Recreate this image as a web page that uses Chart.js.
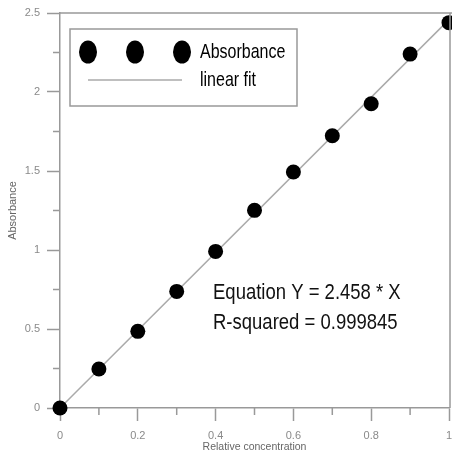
<!DOCTYPE html>
<html>
<head>
<meta charset="utf-8">
<script src="https://cdn.jsdelivr.net/npm/chart.js@4/dist/chart.umd.min.js"></script>
<style>
html,body{margin:0;padding:0;background:#fff;}
#wrap{width:452px;height:458px;position:relative;}
</style>
</head>
<body>
<div id="wrap"><canvas id="c"></canvas></div>
<script>
const concentration = [0, 0.1, 0.2, 0.3, 0.4, 0.5, 0.6, 0.7, 0.8, 0.9, 1.0];
const absorbance = [0, 0.247, 0.485, 0.738, 0.991, 1.251, 1.494, 1.723, 1.926, 2.24, 2.439];
const fitX = [0, 1];
const fitY = [0, 2.458];
const xTickLabels = ['0', '0.2', '0.4', '0.6', '0.8', '1'];
const yTickLabels = ['0', '0.5', '1', '1.5', '2', '2.5'];
const legendLabels = ['Absorbance', 'linear fit'];
const equationLines = ['Equation Y = 2.458 * X', 'R-squared = 0.999845'];
const xTitle = 'Relative concentration';
const yTitle = 'Absorbance';

const FONT = "Arial, 'Liberation Sans', sans-serif";
const AXIS = '#999999';
const TICKTXT = '#8a8a8a';

function labelFor(list, v) {
  const f = list.find(l => Math.abs(parseFloat(l) - v) < 1e-6);
  return f === undefined ? '' : f;
}

const decor = {
  id: 'decor',
  afterDraw(chart) {
    const ctx = chart.ctx;
    const a = chart.chartArea;
    const xs = chart.scales.x, ys = chart.scales.y;
    ctx.save();
    ctx.strokeStyle = AXIS;
    ctx.lineWidth = 1.5;
    ctx.beginPath();
    ctx.moveTo(a.left, a.top);
    ctx.lineTo(a.right + 3, a.top);
    ctx.moveTo(a.right + 1, a.top);
    ctx.lineTo(a.right + 1, a.bottom);
    ctx.stroke();
    ctx.beginPath();
    xs.ticks.forEach(t => {
      if (labelFor(xTickLabels, t.value) === '') {
        const px = xs.getPixelForValue(t.value);
        ctx.moveTo(px, a.bottom);
        ctx.lineTo(px, a.bottom + 7);
      }
    });
    ys.ticks.forEach(t => {
      if (labelFor(yTickLabels, t.value) === '') {
        const py = ys.getPixelForValue(t.value);
        ctx.moveTo(a.left, py);
        ctx.lineTo(a.left - 7, py);
      }
    });
    ctx.stroke();

    const lx = a.left + 10, ly = a.top + 16;
    ctx.strokeStyle = AXIS;
    ctx.lineWidth = 1.5;
    ctx.strokeRect(lx, ly, 227, 77);
    ctx.fillStyle = '#000';
    [18, 65, 112].forEach(dx => {
      ctx.beginPath();
      ctx.ellipse(lx + dx, ly + 23, 9, 11.5, 0, 0, Math.PI * 2);
      ctx.fill();
    });
    ctx.strokeStyle = '#aaaaaa';
    ctx.lineWidth = 1.5;
    ctx.beginPath();
    ctx.moveTo(lx + 18, ly + 51);
    ctx.lineTo(lx + 112, ly + 51);
    ctx.stroke();
    ctx.fillStyle = '#000';
    ctx.textBaseline = 'middle';
    ctx.textAlign = 'left';
    ctx.font = '16px ' + FONT;
    [[legendLabels[0], ly + 23], [legendLabels[1], ly + 51]].forEach(([t, y]) => {
      ctx.save();
      ctx.translate(lx + 130, y);
      ctx.scale(1, 1.28);
      ctx.fillText(t, 0, 0);
      ctx.restore();
    });
    ctx.font = '18.5px ' + FONT;
    ctx.fillStyle = '#111';
    const ex = a.left + 153;
    [[equationLines[0], 293], [equationLines[1], 323]].forEach(([t, y]) => {
      ctx.save();
      ctx.translate(ex, y);
      ctx.scale(1, 1.22);
      ctx.fillText(t, 0, 0);
      ctx.restore();
    });
    ctx.restore();
  }
};

new Chart(document.getElementById('c'), {
  type: 'scatter',
  data: {
    datasets: [
      {
        label: legendLabels[0],
        data: concentration.map((x, i) => ({x: x, y: absorbance[i]})),
        backgroundColor: '#000',
        borderWidth: 0,
        pointRadius: 7.5,
        pointHoverRadius: 7.5,
        clip: false
      },
      {
        label: legendLabels[1],
        data: fitX.map((x, i) => ({x: x, y: fitY[i]})),
        showLine: true,
        borderColor: '#aaaaaa',
        borderWidth: 1.5,
        pointRadius: 0,
        fill: false
      }
    ]
  },
  options: {
    responsive: true,
    maintainAspectRatio: false,
    animation: false,
    devicePixelRatio: 1,
    layout: {autoPadding: false, padding: {left: 0, right: 3, top: 13, bottom: 0}},
    plugins: {legend: {display: false}, tooltip: {enabled: false}},
    scales: {
      x: {
        type: 'linear', min: 0, max: 1,
        afterFit(s) { s.height = 50; s.paddingLeft = 0; s.paddingRight = 0; },
        ticks: {
          stepSize: 0.1, autoSkip: false, maxRotation: 0, padding: 8,
          color: TICKTXT, font: {family: FONT, size: 11},
          callback: v => labelFor(xTickLabels, v)
        },
        grid: {
          drawOnChartArea: false, drawTicks: true, tickLength: 13, tickWidth: 1.5,
          tickColor: c => (c.tick && labelFor(xTickLabels, c.tick.value) !== '') ? AXIS : 'rgba(0,0,0,0)'
        },
        border: {display: true, color: AXIS, width: 1.5},
        title: {display: true, text: xTitle, color: '#666', font: {family: FONT, size: 10.5}, padding: 5}
      },
      y: {
        type: 'linear', min: 0, max: 2.5,
        afterFit(s) { s.width = 60; s.paddingTop = 0; s.paddingBottom = 0; },
        ticks: {
          stepSize: 0.25, autoSkip: false, padding: 7,
          color: TICKTXT, font: {family: FONT, size: 11},
          callback: v => labelFor(yTickLabels, v)
        },
        grid: {
          drawOnChartArea: false, drawTicks: true, tickLength: 13, tickWidth: 1.5,
          tickColor: c => (c.tick && labelFor(yTickLabels, c.tick.value) !== '') ? AXIS : 'rgba(0,0,0,0)'
        },
        border: {display: true, color: AXIS, width: 1.5},
        title: {display: true, text: yTitle, color: '#666', font: {family: FONT, size: 11}, padding: 6}
      }
    }
  },
  plugins: [decor]
});
</script>
</body>
</html>
